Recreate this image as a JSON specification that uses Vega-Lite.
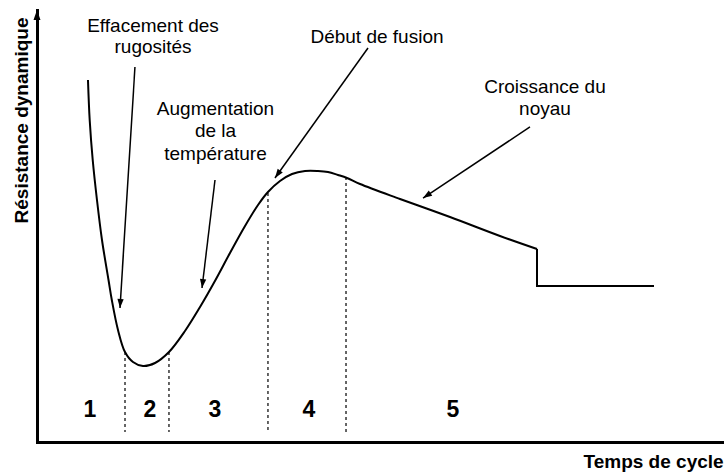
{
  "$schema": "https://vega.github.io/schema/vega-lite/v6.json",
  "width": 687,
  "height": 432,
  "autosize": {"type": "none"},
  "padding": {"left": 37, "top": 10, "right": 0, "bottom": 30},
  "background": "white",
  "config": {"view": {"stroke": null}},
  "datasets": {
    "curve": [
      {"t": 7.42, "r": 83.8}, {"t": 7.67, "r": 74.54}, {"t": 8.11, "r": 65.28}, {"t": 8.73, "r": 56.02},
      {"t": 9.46, "r": 46.76}, {"t": 10.41, "r": 37.5}, {"t": 10.89, "r": 32.87}, {"t": 11.79, "r": 25.93},
      {"t": 12.81, "r": 20.83}, {"t": 13.97, "r": 18.52},
      {"t": 15.43, "r": 17.59}, {"t": 17.18, "r": 18.29}, {"t": 19.21, "r": 20.83}, {"t": 21.54, "r": 25.69},
      {"t": 23.73, "r": 31.25}, {"t": 25.9, "r": 37.27}, {"t": 28.09, "r": 43.75}, {"t": 30.28, "r": 50.0},
      {"t": 32.17, "r": 54.86}, {"t": 33.62, "r": 57.87}, {"t": 35.37, "r": 60.42}, {"t": 37.12, "r": 62.04},
      {"t": 39.01, "r": 62.73}, {"t": 40.9, "r": 62.73}, {"t": 42.36, "r": 62.5}, {"t": 43.81, "r": 61.81},
      {"t": 45.12, "r": 61.11}, {"t": 47.02, "r": 59.72}, {"t": 52.84, "r": 56.25}, {"t": 60.12, "r": 52.08},
      {"t": 67.39, "r": 47.69}, {"t": 72.78, "r": 44.68}
    ],
    "tail": [
      {"t": 72.78, "r": 44.68, "i": 0},
      {"t": 72.78, "r": 36.11, "i": 1},
      {"t": 89.81, "r": 36.11, "i": 2}
    ],
    "phases": [
      {"t": 12.81, "r": 20.83, "rb": 2.31},
      {"t": 19.21, "r": 20.83, "rb": 2.31},
      {"t": 33.62, "r": 57.64, "rb": 2.31},
      {"t": 44.98, "r": 61.34, "rb": 2.31}
    ],
    "numbers": [
      {"t": 7.71, "r": 5.79, "label": "1"},
      {"t": 16.45, "r": 5.79, "label": "2"},
      {"t": 25.91, "r": 5.79, "label": "3"},
      {"t": 39.59, "r": 5.79, "label": "4"},
      {"t": 60.55, "r": 5.79, "label": "5"}
    ],
    "notes": [
      {"t": 16.89, "r": 94.91, "label": "Effacement des"},
      {"t": 16.89, "r": 90.05, "label": "rugosités"},
      {"t": 25.98, "r": 75.69, "label": "Augmentation"},
      {"t": 25.98, "r": 70.6, "label": "de la"},
      {"t": 25.98, "r": 65.28, "label": "température"},
      {"t": 49.49, "r": 92.36, "label": "Début de fusion"},
      {"t": 73.94, "r": 80.79, "label": "Croissance du"},
      {"t": 73.94, "r": 75.69, "label": "noyau"}
    ],
    "arrows": [
      {"t": 12.08, "r": 31.02, "ts": 14.26, "rs": 86.81, "ang": 183.6},
      {"t": 24.02, "r": 35.65, "ts": 25.91, "rs": 60.65, "ang": 186.9},
      {"t": 34.64, "r": 61.11, "ts": 48.18, "rs": 91.2, "ang": 215.6},
      {"t": 56.19, "r": 56.48, "ts": 71.76, "rs": 72.92, "ang": 236.4}
    ],
    "axisHead": [
      {"t": 0, "r": 100, "ang": 0}
    ]
  },
  "encoding": {
    "x": {
      "field": "t", "type": "quantitative",
      "scale": {"domain": [0, 100], "nice": false, "zero": false},
      "axis": {
        "title": "Temps de cycle", "domain": true, "domainWidth": 3, "domainColor": "black", "domainCap": "square",
        "ticks": false, "labels": false, "grid": false,
        "titleFont": "Liberation Sans", "titleFontWeight": "bold", "titleFontSize": 19, "titleColor": "black",
        "titleAlign": "left", "titleBaseline": "alphabetic", "titleX": 546, "titleY": 25
      }
    },
    "y": {
      "field": "r", "type": "quantitative",
      "scale": {"domain": [0, 100], "nice": false, "zero": false},
      "axis": {
        "title": "Résistance dynamique", "domain": true, "domainWidth": 3, "domainColor": "black", "domainCap": "square",
        "ticks": false, "labels": false, "grid": false,
        "titleFont": "Liberation Sans", "titleFontWeight": "bold", "titleFontSize": 19, "titleColor": "black",
        "titleAngle": 270, "titleAlign": "center", "titleBaseline": "alphabetic", "titleX": -10, "titleY": 110
      }
    }
  },
  "layer": [
    {
      "data": {"name": "phases"},
      "mark": {"type": "rule", "color": "black", "strokeWidth": 1.2, "strokeDash": [3, 3]},
      "encoding": {"y2": {"field": "rb"}}
    },
    {
      "data": {"name": "curve"},
      "mark": {"type": "line", "color": "black", "strokeWidth": 2, "interpolate": "catmull-rom"},
      "encoding": {}
    },
    {
      "data": {"name": "tail"},
      "mark": {"type": "line", "color": "black", "strokeWidth": 2, "interpolate": "linear"},
      "encoding": {"order": {"field": "i", "type": "quantitative"}}
    },
    {
      "data": {"name": "arrows"},
      "mark": {"type": "rule", "color": "black", "strokeWidth": 1.5},
      "encoding": {"x2": {"field": "ts"}, "y2": {"field": "rs"}}
    },
    {
      "data": {"name": "arrows"},
      "mark": {"type": "point", "filled": true, "color": "black", "opacity": 1, "shape": "M0,0L-0.35,1L0.35,1Z", "size": 324, "strokeWidth": 0},
      "encoding": {"angle": {"field": "ang", "type": "quantitative", "scale": null}}
    },
    {
      "data": {"name": "axisHead"},
      "mark": {"type": "point", "filled": true, "color": "black", "opacity": 1, "shape": "M0,0L-0.35,1L0.35,1Z", "size": 400, "strokeWidth": 0},
      "encoding": {"angle": {"field": "ang", "type": "quantitative", "scale": null}}
    },
    {
      "data": {"name": "notes"},
      "mark": {"type": "text", "font": "Liberation Sans", "fontSize": 19, "align": "center", "baseline": "alphabetic", "color": "black"},
      "encoding": {"text": {"field": "label"}}
    },
    {
      "data": {"name": "numbers"},
      "mark": {"type": "text", "font": "Liberation Sans", "fontSize": 23, "fontWeight": "bold", "align": "center", "baseline": "alphabetic", "color": "black"},
      "encoding": {"text": {"field": "label"}}
    }
  ]
}
